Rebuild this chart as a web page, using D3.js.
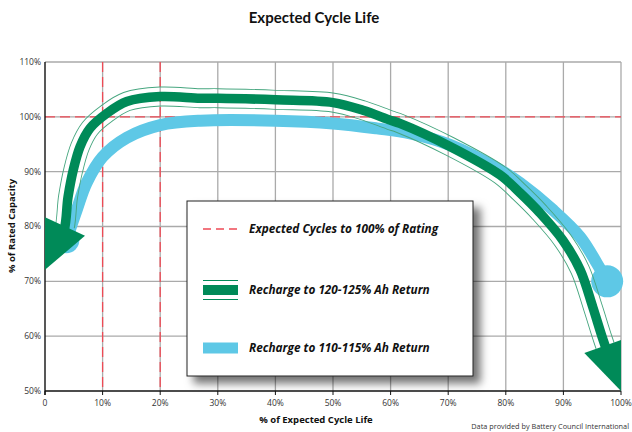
<!DOCTYPE html>
<html>
<head>
<meta charset="utf-8">
<script src="https://cdn.jsdelivr.net/npm/d3@7"></script>
<style>
  body { margin: 0; background: #fff; }
  svg { display: block; }
</style>
</head>
<body>
<svg id="chart"></svg>
<script>
// values (x = % of cycle life, y = % of rated capacity)
const xTicks = [0, 10, 20, 30, 40, 50, 60, 70, 80, 90, 100];
const yTicks = [50, 60, 70, 80, 90, 100, 110];
const xTickLabels = ["0", "10%", "20%", "30%", "40%", "50%", "60%", "70%", "80%", "90%", "100%"];
const refCycles = [10, 20];      // red dashed verticals
const refCapacity = [100];       // red dashed horizontal

// 120-125% Ah return (green), from arrow tip at left to arrow tip at right
const greenX = [0, 3.2, 4.0, 4.9, 6.1, 7.8, 10.7, 14.2, 20, 26.9, 30, 40.1, 50, 55.2, 59.9, 61.6, 70.3, 79, 82.5, 85.9, 89.9, 92.9, 95.1, 96.9, 100];
const greenY = [72.1, 78.8, 85.4, 90.3, 94.6, 97.9, 100.6, 102.8, 103.7, 103.4, 103.4, 103.1, 102.6, 101.2, 99.4, 98.8, 94.6, 89.4, 86.1, 82.5, 77.5, 72.1, 65.3, 59.3, 50];

// 110-115% Ah return (blue)
const blueX = [3.7, 5.5, 7.2, 10, 14.2, 20, 27, 40, 50, 57.6, 63.4, 70.3, 79, 82.5, 88.2, 92.9, 95.8, 97.6];
const blueY = [77.5, 83, 87.9, 92.7, 96.2, 98.5, 99.3, 99.3, 98.8, 97.9, 97.0, 94.9, 90.3, 87.9, 83, 78.1, 73.3, 70];

const legendLabels = ["Expected Cycles to 100% of Rating", "Recharge to 120-125% Ah Return", "Recharge to 110-115% Ah Return"];

const width = 632, height = 432;
const m = {left: 45, right: 621, top: 62, bottom: 391};

const GREEN = "#008a58", GREEN_LINE = "#46a67f", BLUE = "#5ec8e6", RED = "#ee4a55", GRID = "#aaaaaa";

const svg = d3.select("#chart").attr("width", width).attr("height", height);
const defs = svg.append("defs");

const x = d3.scaleLinear().domain([0, 100]).range([m.left, m.right]);
const y = d3.scaleLinear().domain([50, 110]).range([m.bottom, m.top]);

defs.append("clipPath").attr("id", "plotclip")
  .append("rect").attr("x", m.left).attr("y", m.top).attr("width", m.right - m.left).attr("height", m.bottom - m.top);

const shadow = defs.append("filter").attr("id", "shadow")
  .attr("x", "-10%").attr("y", "-10%").attr("width", "130%").attr("height", "130%");
shadow.append("feDropShadow").attr("dx", 7).attr("dy", 7).attr("stdDeviation", 4)
  .attr("flood-color", "#000").attr("flood-opacity", 0.55);

// title
svg.append("text").attr("x", 314).attr("y", 23).attr("text-anchor", "middle")
  .style("font", "bold 15px Lato").attr("fill", "#111").text("Expected Cycle Life");

// grid
const grid = svg.append("g").attr("stroke", GRID).attr("stroke-width", 1.3);
grid.selectAll(".vx").data(xTicks.slice(1)).join("line")
  .attr("x1", d => x(d)).attr("x2", d => x(d)).attr("y1", m.top).attr("y2", m.bottom);
grid.selectAll(".hy").data(yTicks.slice(1)).join("line")
  .attr("x1", m.left).attr("x2", m.right).attr("y1", d => y(d)).attr("y2", d => y(d));

// reference dashes
const ref = svg.append("g").attr("stroke", RED).attr("stroke-width", 1.3).attr("stroke-dasharray", "10,5");
ref.selectAll(".rv").data(refCycles).join("line")
  .attr("x1", d => x(d)).attr("x2", d => x(d)).attr("y1", m.top).attr("y2", m.bottom);
ref.selectAll(".rh").data(refCapacity).join("line")
  .attr("x1", m.left).attr("x2", m.right).attr("y1", d => y(d)).attr("y2", d => y(d));

// axes
svg.append("line").attr("x1", m.left).attr("x2", m.left).attr("y1", m.top).attr("y2", m.bottom + 4)
  .attr("stroke", "#111").attr("stroke-width", 1.4);
svg.append("line").attr("x1", m.left).attr("x2", m.right).attr("y1", m.bottom).attr("y2", m.bottom)
  .attr("stroke", "#111").attr("stroke-width", 1.4);
svg.append("g").selectAll("line").data(xTicks).join("line")
  .attr("x1", d => x(d)).attr("x2", d => x(d)).attr("y1", m.bottom).attr("y2", m.bottom + 4)
  .attr("stroke", "#111").attr("stroke-width", 1);

svg.append("g").selectAll("text").data(yTicks).join("text")
  .attr("x", m.left - 4).attr("y", d => y(d)).attr("dy", "0.35em").attr("text-anchor", "end")
  .style("font", "8.5px 'Open Sans'").attr("fill", "#333").text(d => d + "%");
svg.append("g").selectAll("text").data(xTicks).join("text")
  .attr("x", d => x(d)).attr("y", m.bottom + 15).attr("text-anchor", "middle")
  .style("font", "8.5px 'Open Sans'").attr("fill", "#333").text((d, i) => xTickLabels[i]);

svg.append("text").attr("x", 316).attr("y", 423).attr("text-anchor", "middle")
  .style("font", "bold 9.5px 'Open Sans'").attr("fill", "#111").text("% of Expected Cycle Life");
svg.append("text").attr("transform", "translate(15,226) rotate(-90)").attr("text-anchor", "middle")
  .style("font", "bold 9.5px 'Open Sans'").attr("fill", "#111").text("% of Rated Capacity");

svg.append("text").attr("x", 629).attr("y", 429).attr("text-anchor", "end")
  .style("font", "7.3px 'Open Sans'").attr("fill", "#333").text("Data provided by Battery Council International");

const line = d3.line().x(d => x(d[0])).y(d => y(d[1])).curve(d3.curveCatmullRom.alpha(0.5));

// blue curve with round ends
const blue = d3.zip(blueX, blueY);
const gBlue = svg.append("g");
gBlue.append("path").attr("d", line(blue)).attr("fill", "none")
  .attr("stroke", BLUE).attr("stroke-width", 12).attr("stroke-linejoin", "round");
gBlue.append("circle").attr("cx", x(blue[0][0])).attr("cy", y(blue[0][1])).attr("r", 13).attr("fill", BLUE);
gBlue.append("circle").attr("cx", x(blue[blue.length - 1][0])).attr("cy", y(blue[blue.length - 1][1])).attr("r", 16).attr("fill", BLUE);

// green curve with arrow heads on both ends
const green = d3.zip(greenX, greenY);
const gGreen = svg.append("g").attr("clip-path", "url(#plotclip)");
const gp = gGreen.append("path").attr("d", line(green)).attr("fill", "none");
const L = gp.node().getTotalLength();
const arrowLen = 48, arrowHalf = 22, off = 9.5;

defs.append("mask").attr("id", "outlineMask").attr("maskUnits", "userSpaceOnUse")
  .attr("x", 0).attr("y", 0).attr("width", width).attr("height", height)
  .call(k => k.append("rect").attr("width", width).attr("height", height).attr("fill", "#fff"))
  .call(k => k.append("path").attr("d", line(green)).attr("fill", "none")
    .attr("stroke", "#000").attr("stroke-width", 2 * off - 0.9));

gGreen.append("path").attr("d", line(green)).attr("fill", "none")
  .attr("stroke", GREEN_LINE).attr("stroke-width", 2 * off + 0.9)
  .attr("stroke-dasharray", `0 ${arrowLen} ${L - 2 * arrowLen} ${arrowLen}`)
  .attr("mask", "url(#outlineMask)");

gp.attr("stroke", GREEN).attr("stroke-width", 9.5)
  .attr("stroke-dasharray", `0 ${arrowLen - 4} ${L - 2 * arrowLen + 8} ${arrowLen}`);

function arrowHead(tipAt, baseAt) {
  const t = gp.node().getPointAtLength(tipAt);
  const b = gp.node().getPointAtLength(baseAt);
  const dx = t.x - b.x, dy = t.y - b.y, n = Math.hypot(dx, dy);
  const px = -dy / n * arrowHalf, py = dx / n * arrowHalf;
  return [[b.x + px, b.y + py], [t.x, t.y], [b.x - px, b.y - py]];
}
gGreen.selectAll("polygon").data([arrowHead(0, arrowLen), arrowHead(L, L - arrowLen)]).join("polygon")
  .attr("points", d => d.map(p => p.join(",")).join(" ")).attr("fill", GREEN);

// legend
const lg = svg.append("g");
lg.append("rect").attr("x", 187).attr("y", 201).attr("width", 286).attr("height", 175)
  .attr("fill", "#fff").attr("stroke", "#222").attr("stroke-width", 1).attr("filter", "url(#shadow)");
const rows = [229, 290, 348];
const lx1 = 203, lx2 = 238;
lg.append("line").attr("x1", lx1).attr("x2", lx2).attr("y1", rows[0]).attr("y2", rows[0])
  .attr("stroke", RED).attr("stroke-width", 1.3).attr("stroke-dasharray", "8,5");
lg.append("line").attr("x1", lx1).attr("x2", lx2).attr("y1", rows[1]).attr("y2", rows[1])
  .attr("stroke", GREEN).attr("stroke-width", 10);
[-off, off].forEach(o => lg.append("line").attr("x1", lx1).attr("x2", lx2)
  .attr("y1", rows[1] + o).attr("y2", rows[1] + o).attr("stroke", GREEN).attr("stroke-width", 1));
lg.append("line").attr("x1", lx1).attr("x2", lx2).attr("y1", rows[2]).attr("y2", rows[2])
  .attr("stroke", BLUE).attr("stroke-width", 11);
lg.selectAll("text.lab").data(legendLabels).join("text")
  .attr("x", 249).attr("y", (d, i) => rows[i]).attr("dy", "0.35em")
  .style("font", "italic bold 11.8px 'Open Sans'").attr("fill", "#111").text(d => d);
</script>
</body>
</html>
